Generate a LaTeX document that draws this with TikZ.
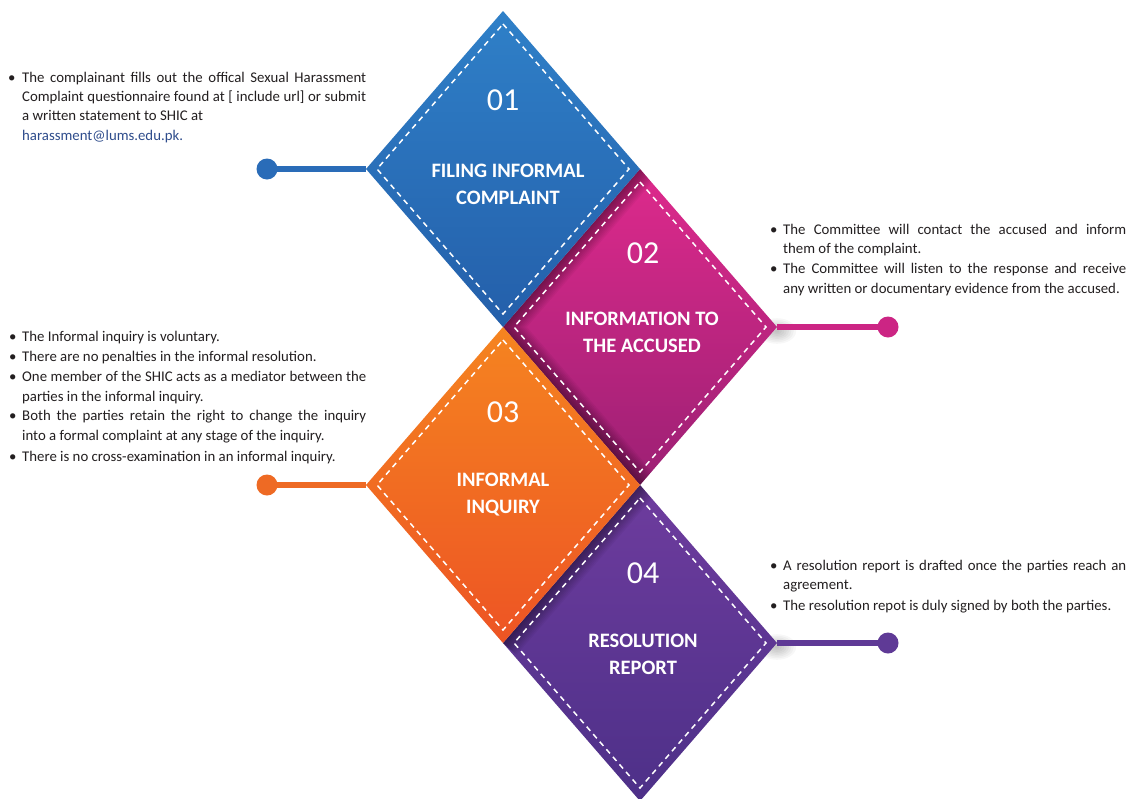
\documentclass[tikz,border=0pt]{standalone}
\usepackage{fontspec}
\setmainfont{Carlito}
\definecolor{txtcol}{HTML}{231F20}
\definecolor{urlcol}{HTML}{2E4C8C}
\definecolor{blueT}{HTML}{2F80C8}
\definecolor{blueB}{HTML}{245FAA}
\definecolor{blueL}{HTML}{2A6CB8}
\definecolor{magT}{HTML}{DE2A8C}
\definecolor{magB}{HTML}{9C2074}
\definecolor{magL}{HTML}{CC2584}
\definecolor{orgT}{HTML}{F58420}
\definecolor{orgB}{HTML}{ED5424}
\definecolor{orgL}{HTML}{EE6A24}
\definecolor{purT}{HTML}{6E3C9E}
\definecolor{purB}{HTML}{4D3088}
\definecolor{purL}{HTML}{5F3A96}
\begin{document}
\begin{tikzpicture}[x=1pt,y=-1pt,
  txt/.style={anchor=base west, inner sep=0pt, font=\fontsize{14.8}{17}\selectfont, text=txtcol},
  bul/.style={anchor=base west, inner sep=0pt, font=\fontsize{14.8}{17}\selectfont, text=txtcol},
  num/.style={text=white, font=\fontsize{32}{32}\selectfont, inner sep=0pt, anchor=center},
  ttl/.style={text=white, font=\bfseries\fontsize{20.5}{27}\selectfont, align=center, inner sep=0pt, anchor=center},
  dashin/.style={white, line width=1.5pt, dash pattern=on 5.5pt off 4.5pt},
  conn/.style={line width=6pt},
  dot/.style={circle, inner sep=0pt, minimum size=21pt},
  shd/.style={black, opacity=0.04}
]
\useasboundingbox (0,0) rectangle (1130,798);
\fill[white] (0,0) rectangle (1130,798);

% key vertices
\coordinate (d1w) at (366,169);
\coordinate (d2e) at (777,327);
\coordinate (d3w) at (366,485);
\coordinate (d4e) at (777,643);

% soft shadows under right tips
\foreach \w in {2,4,...,16} {
  \fill[shd, opacity=0.03] (777,331) ellipse ({\w*1.2pt} and {\w*0.8pt});
  \fill[shd, opacity=0.03] (777,647) ellipse ({\w*1.2pt} and {\w*0.8pt});
}

% ---- diamond 2 (magenta) ----
\shade[top color=magT, bottom color=magB] (640,169) -- (777,327) -- (640,485) -- (503,327) -- cycle;
\begin{scope}
  \clip (640,169) -- (777,327) -- (640,485) -- (503,327) -- cycle;
  \foreach \w in {3,6,...,36} {
    \draw[shd, line width=\w pt] (640,169) -- (503,327) -- (640,485);
  }
\end{scope}
\draw[dashin] (640,182) -- (766,327) -- (640,472) -- (514,327) -- cycle;

% ---- diamond 4 (purple) ----
\shade[top color=purT, bottom color=purB] (640,485) -- (777,643) -- (640,801) -- (503,643) -- cycle;
\begin{scope}
  \clip (640,485) -- (777,643) -- (640,801) -- (503,643) -- cycle;
  \foreach \w in {3,6,...,36} {
    \draw[shd, line width=\w pt] (640,485) -- (503,643);
  }
\end{scope}
\draw[dashin] (640,498) -- (766,643) -- (640,788) -- (514,643) -- cycle;

% ---- diamond 1 (blue) ----
\shade[top color=blueT, bottom color=blueB] (503,11) -- (640,169) -- (503,327) -- (366,169) -- cycle;
\draw[dashin] (503,24) -- (629,169) -- (503,314) -- (377,169) -- cycle;

% ---- diamond 3 (orange) ----
\shade[top color=orgT, bottom color=orgB] (503,327) -- (640,485) -- (503,643) -- (366,485) -- cycle;
\draw[dashin] (503,340) -- (629,485) -- (503,630) -- (377,485) -- cycle;

% ---- numbers and titles ----
\node[num] (n1) at (503,100) {01};
\node[ttl] (h1) at (508,184) {FILING INFORMAL\\COMPLAINT};
\node[num] (n2) at (643,253) {02};
\node[ttl] (h2) at (642,332) {INFORMATION TO\\THE ACCUSED};
\node[num] (n3) at (503,412) {03};
\node[ttl] (h3) at (503,495) {INFORMAL\\INQUIRY};
\node[num] (n4) at (643,573) {04};
\node[ttl] (h4) at (643,654) {RESOLUTION\\REPORT};

% ---- connectors ----
\node[dot, fill=blueL] (c1) at (267,169) {};
\draw[conn, blueL] (c1.center) -- (d1w);
\node[dot, fill=magL] (c2) at (888,327) {};
\draw[conn, magL] (d2e) -- (c2.center);
\node[dot, fill=orgL] (c3) at (267,485) {};
\draw[conn, orgL] (c3.center) -- (d3w);
\node[dot, fill=purL] (c4) at (888,643) {};
\draw[conn, purL] (d4e) -- (c4.center);

% ---- text block 1 ----
\node[bul] (b1a) at (8,82) {\textbullet};
\node[txt] (t1a) at (22,82) {\makebox[344pt][s]{The complainant fills out the offical Sexual Harassment}};
\node[txt] (t1b) at (22,101) {\makebox[344pt][s]{Complaint questionnaire found at [ include url] or submit}};
\node[txt] (t1c) at (22,120) {a written statement to SHIC at};
\node[txt, text=urlcol] (t1d) at (22,140) {harassment@lums.edu.pk.};

% ---- text block 2 ----
\node[bul] (b2a) at (770,234) {\textbullet};
\node[txt] (t2a) at (783,234) {\makebox[343pt][s]{The Committee will contact the accused and inform}};
\node[txt] (t2b) at (783,253) {them of the complaint.};
\node[bul] (b2b) at (770,273) {\textbullet};
\node[txt] (t2c) at (783,273) {\makebox[343pt][s]{The Committee will listen to the response and receive}};
\node[txt] (t2d) at (783,293) {any written or documentary evidence from the accused.};

% ---- text block 3 ----
\node[bul] (b3a) at (9,341) {\textbullet};
\node[txt] (t3a) at (22,341) {The Informal inquiry is voluntary.};
\node[bul] (b3b) at (9,361) {\textbullet};
\node[txt] (t3b) at (22,361) {There are no penalties in the informal resolution.};
\node[bul] (b3c) at (9,381) {\textbullet};
\node[txt] (t3c) at (22,381) {\makebox[344pt][s]{One member of the SHIC acts as a mediator between the}};
\node[txt] (t3d) at (22,401) {parties in the informal inquiry.};
\node[bul] (b3e) at (9,420) {\textbullet};
\node[txt] (t3e) at (22,420) {\makebox[344pt][s]{Both the parties retain the right to change the inquiry}};
\node[txt] (t3f) at (22,440) {into a formal complaint at any stage of the inquiry.};
\node[bul] (b3g) at (9,461) {\textbullet};
\node[txt] (t3g) at (22,461) {There is no cross-examination in an informal inquiry.};

% ---- text block 4 ----
\node[bul] (b4a) at (770,570) {\textbullet};
\node[txt] (t4a) at (783,570) {\makebox[343pt][s]{A resolution report is drafted once the parties reach an}};
\node[txt] (t4b) at (783,589) {agreement.};
\node[bul] (b4b) at (770,610) {\textbullet};
\node[txt] (t4c) at (783,610) {The resolution repot is duly signed by both the parties.};
\end{tikzpicture}
\end{document}
